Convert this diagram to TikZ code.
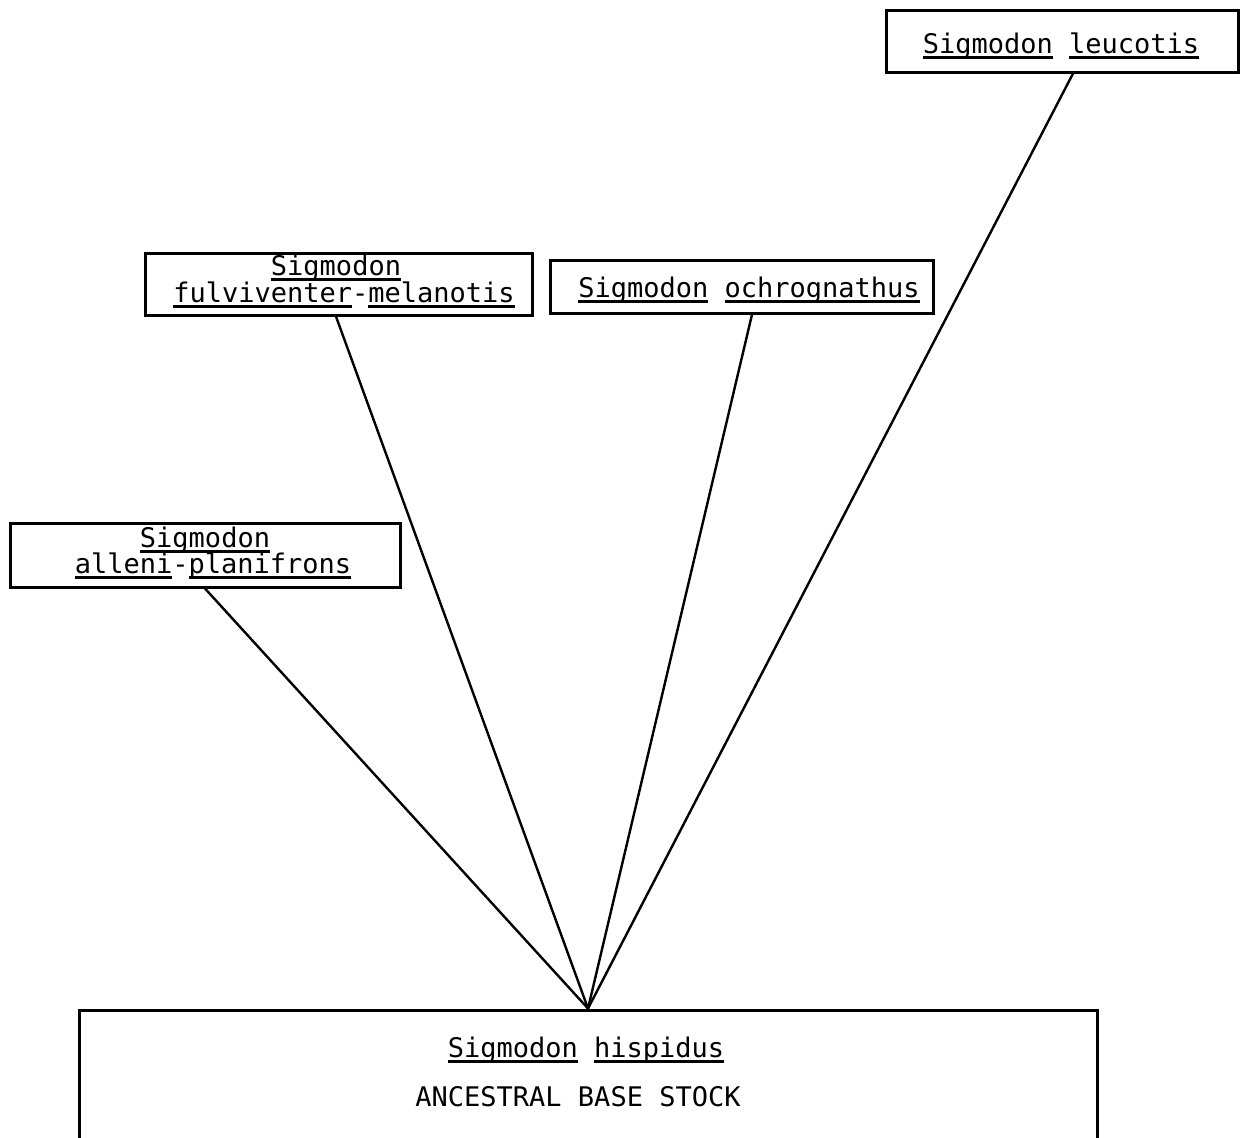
\documentclass[tikz,border=0pt]{standalone}
\usepackage{fontspec}
\newfontfamily\tw{DejaVu Sans Mono}
\newsavebox\tubox
\newcommand\tu[1]{\sbox\tubox{#1}\rlap{\rule[-3.2pt]{\wd\tubox}{1.5pt}}\usebox\tubox}
\tikzset{
  box/.style={draw, line width=1.5pt, inner sep=0pt},
  lbl/.style={font=\tw\fontsize{13.5pt}{16pt}\selectfont, anchor=base, inner sep=0pt},
  link/.style={line width=1.2pt}
}
\begin{document}
\begin{tikzpicture}[x=0.5pt,y=-0.5pt]
\useasboundingbox (0,0) rectangle (1246,1137);
\clip (0,0) rectangle (1246,1137);
% boxes
\node[box, minimum width=176pt, minimum height=31pt] (leu) at (1062,41) {};
\node[box, minimum width=193.5pt, minimum height=31pt] (fulv) at (338.5,284) {};
\node[box, minimum width=191.5pt, minimum height=26.5pt] (ochr) at (741.5,286.5) {};
\node[box, minimum width=195pt, minimum height=32pt] (alle) at (205,555) {};
\node[box, minimum width=509pt, minimum height=80pt] (hisp) at (588,1090) {};
% labels
\node[lbl] (leut) at (1061,53) {\tu{Sigmodon} \tu{leucotis}};
\node[lbl] (fulvt1) at (336,275) {\tu{Sigmodon}};
\node[lbl] (fulvt2) at (344,302) {\tu{fulviventer}-\tu{melanotis}};
\node[lbl] (ochrt) at (749,297) {\tu{Sigmodon} \tu{ochrognathus}};
\node[lbl] (allet1) at (205,547) {\tu{Sigmodon}};
\node[lbl] (allet2) at (213,573) {\tu{alleni}-\tu{planifrons}};
\node[lbl] (hispt) at (586,1057) {\tu{Sigmodon} \tu{hispidus}};
\node[lbl] (anc) at (578,1106) {ANCESTRAL BASE STOCK};
% connectors
\draw[link] ([xshift=5.5pt]leu.south) -- (hisp.north);
\draw[link] ([xshift=5.25pt]ochr.south) -- (hisp.north);
\draw[link] ([xshift=-1.25pt]fulv.south) -- (hisp.north);
\draw[link] (alle.south) -- (hisp.north);
\end{tikzpicture}
\end{document}
